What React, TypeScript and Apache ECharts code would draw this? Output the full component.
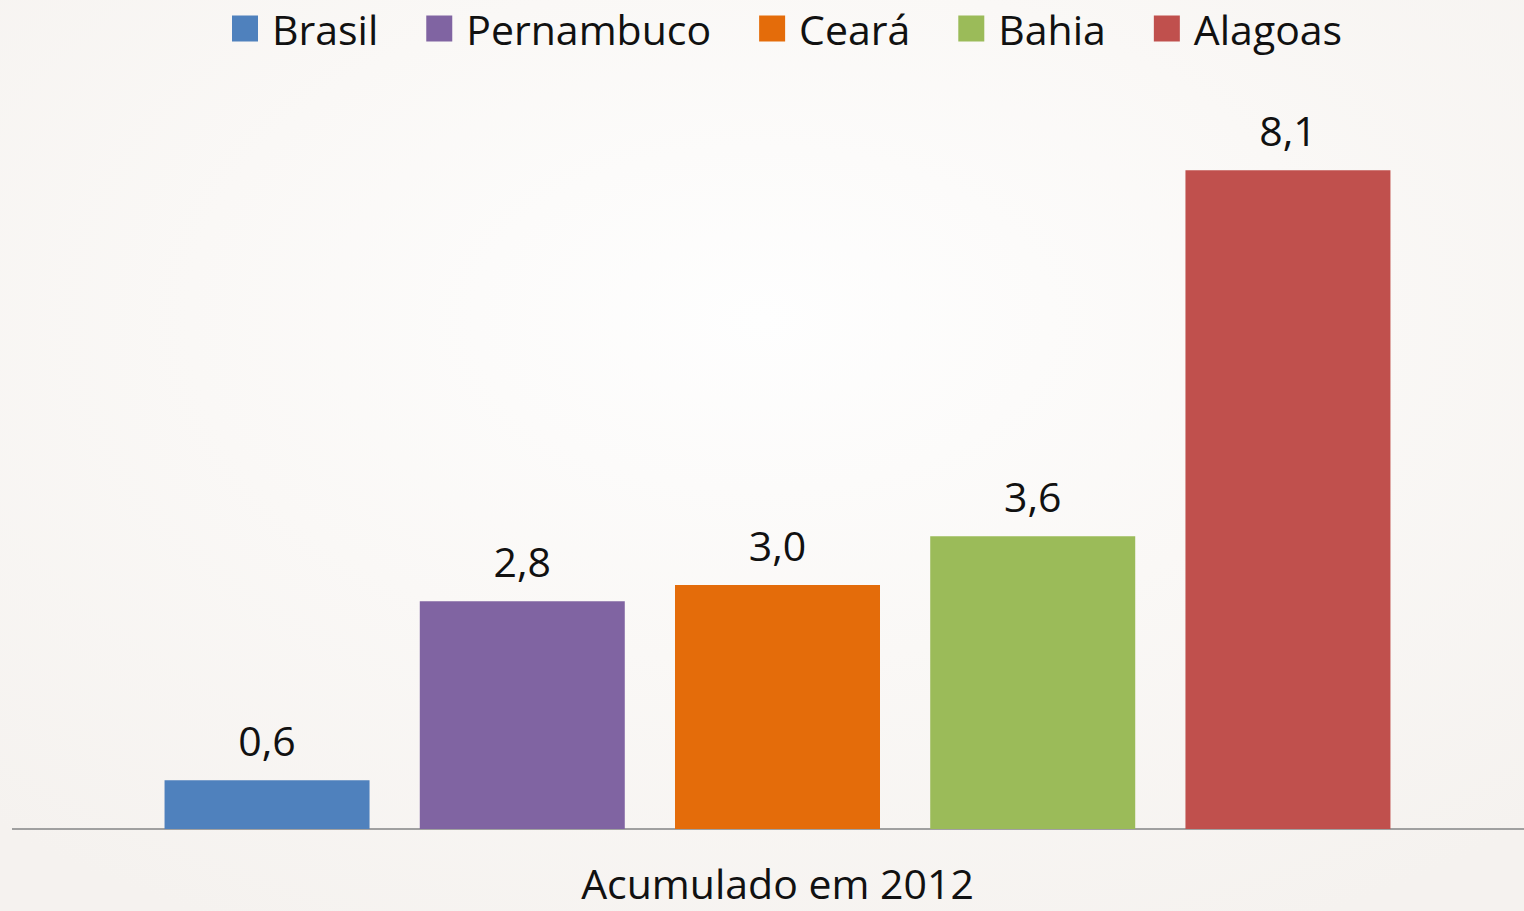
import React, { useEffect, useRef } from "react";
import * as echarts from "echarts";

const categories = ["Acumulado em 2012"];
const seriesNames = ["Brasil", "Pernambuco", "Ceará", "Bahia", "Alagoas"];
const seriesValues = [0.6, 2.8, 3.0, 3.6, 8.1];
const seriesColors = ["#4f81bd", "#8064a2", "#e46c0a", "#9bbb59", "#c0504d"];

const FONT = "'Open Sans', sans-serif";

export default function App() {
  const ref = useRef<HTMLDivElement>(null);
  useEffect(() => {
    document.body.style.margin = "0";
    const chart = echarts.init(ref.current!, null, { renderer: "svg" });
    chart.setOption({
      animation: false,
      backgroundColor: {
        type: "radial",
        x: 0.5,
        y: 0.35,
        r: 0.75,
        colorStops: [
          { offset: 0, color: "#fefefe" },
          { offset: 0.5, color: "#faf8f6" },
          { offset: 1, color: "#f5f2ef" },
        ],
      },
      textStyle: { fontFamily: FONT },
      legend: {
        top: 3,
        left: 227,
        itemWidth: 26,
        itemHeight: 26,
        itemGap: 48,
        icon: "rect",
        textStyle: { fontSize: 41, color: "#111", fontFamily: FONT, padding: [0, 0, 0, 9] },
        data: seriesNames,
      },
      grid: { left: 31, right: 0, top: 97, bottom: 82 },
      xAxis: {
        type: "category",
        data: categories,
        axisTick: { show: false },
        axisLine: { lineStyle: { color: "#a0a0a0", width: 2 } },
        axisLabel: { fontSize: 41, lineHeight: 30, color: "#111", margin: 39, fontFamily: FONT },
      },
      yAxis: {
        type: "value",
        min: 0,
        max: 9,
        show: false,
        splitLine: { show: false },
      },
      graphic: [
        {
          type: "line",
          shape: { x1: 12, y1: 829, x2: 32, y2: 829 },
          style: { stroke: "#a0a0a0", lineWidth: 2 },
        },
      ],
      series: seriesNames.map((name, i) => ({
        name,
        type: "bar",
        barWidth: 205,
        barGap: "24.5%",
        data: [seriesValues[i]],
        itemStyle: { color: seriesColors[i] },
        label: {
          show: true,
          position: "top",
          distance: 20,
          fontSize: 41,
          color: "#111",
          fontFamily: FONT,
          formatter: (p: any) => p.value.toFixed(1).replace(".", ","),
        },
      })),
    });
    return () => chart.dispose();
  }, []);
  return <div ref={ref} style={{ width: 1524, height: 911 }} />;
}
